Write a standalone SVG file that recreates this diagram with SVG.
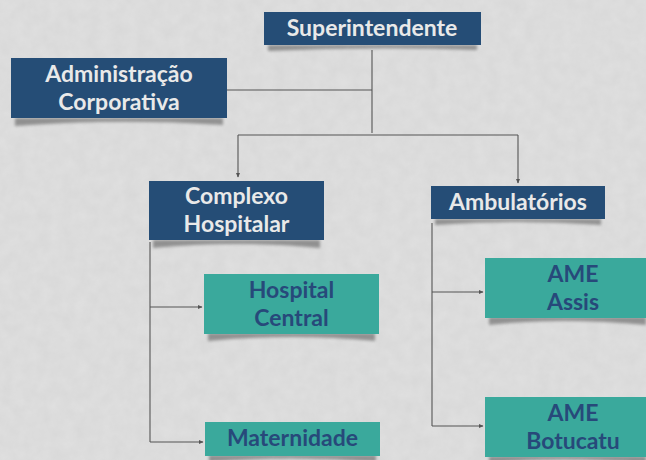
<svg xmlns="http://www.w3.org/2000/svg" width="646" height="460" viewBox="0 0 646 460">
<defs>
<filter id="tex" x="0" y="0" width="100%" height="100%">
<feTurbulence type="fractalNoise" baseFrequency="0.08" numOctaves="3" seed="4"/>
<feColorMatrix type="matrix" values="0 0 0 0 0.55  0 0 0 0 0.55  0 0 0 0 0.55  0 0 0 0.3 0"/>
<feComposite in2="SourceGraphic" operator="in"/>
</filter>
<filter id="blur" x="-10%" y="-50%" width="120%" height="200%"><feGaussianBlur stdDeviation="1.6"/></filter>
<marker id="arr" markerWidth="5" markerHeight="5" refX="4" refY="2.5" orient="auto" markerUnits="userSpaceOnUse">
<path d="M0,0.5 L4.5,2.5 L0,4.5 z" fill="#555"/>
</marker>
<style>
.dk{fill:#254d76}
.tl{fill:#3aa99c}
.sh{fill:#5e5e5e;opacity:.6;filter:url(#blur)}
.tw{font-family:Lato,"Liberation Sans",sans-serif;font-weight:bold;font-size:23px;fill:#e9e9e9;text-anchor:middle}
.tb{font-family:Lato,"Liberation Sans",sans-serif;font-weight:bold;font-size:23px;fill:#27497a;text-anchor:middle}
.ln{stroke:#555;stroke-width:1.1;fill:none}
</style>
</defs>
<rect width="646" height="460" fill="#e0e0e0"/>
<rect width="646" height="460" fill="#e0e0e0" filter="url(#tex)"/>
<g id="connectors">
<path class="ln" d="M372,50 V133"/>
<path class="ln" d="M372,90 H187" marker-end="url(#arr)"/>
<path class="ln" d="M238,135 H518"/>
<path class="ln" d="M238,135 V177" marker-end="url(#arr)"/>
<path class="ln" d="M518,135 V183" marker-end="url(#arr)"/>
<path class="ln" d="M150,242 V442"/>
<path class="ln" d="M150,307 H202" marker-end="url(#arr)"/>
<path class="ln" d="M150,442 H203" marker-end="url(#arr)"/>
<path class="ln" d="M432,223 V426"/>
<path class="ln" d="M432,292 H483" marker-end="url(#arr)"/>
<path class="ln" d="M432,426 H483" marker-end="url(#arr)"/>
</g>
<g id="superintendente">
<path class="sh" d="M268,45 H477 V50 Q372,46 268,51 z"/>
<rect class="dk" x="264" y="12" width="217" height="33"/>
<text class="tw" x="372" y="36">Superintendente</text>
</g>
<g id="administracao">
<path class="sh" d="M15,118 H223 V125 Q120,118 15,126 z"/>
<rect class="dk" x="11" y="58" width="216" height="60"/>
<text class="tw" x="119" y="82">Administração</text>
<text class="tw" x="119" y="110">Corporativa</text>
</g>
<g id="complexo">
<path class="sh" d="M153,240 H320 V248 Q236,240 153,248 z"/>
<rect class="dk" x="149" y="181" width="175" height="59"/>
<text class="tw" x="236.5" y="204">Complexo</text>
<text class="tw" x="236.5" y="232">Hospitalar</text>
</g>
<g id="ambulatorios">
<path class="sh" d="M435,219 H601 V225 Q518,219 435,225 z"/>
<rect class="dk" x="431" y="186" width="174" height="33"/>
<text class="tw" x="518" y="210">Ambulatórios</text>
</g>
<g id="hospital-central">
<path class="sh" d="M208,333 H375 V341 Q292,333 208,341 z"/>
<rect class="tl" x="204" y="274" width="175" height="60"/>
<text class="tb" x="291.5" y="298">Hospital</text>
<text class="tb" x="291.5" y="326">Central</text>
</g>
<g id="maternidade">
<path class="sh" d="M209,455 H376 V462 Q292,455 209,462 z"/>
<rect class="tl" x="205" y="422" width="175" height="34"/>
<text class="tb" x="292.5" y="446">Maternidade</text>
</g>
<g id="ame-assis">
<path class="sh" d="M489,317 H646 V325 Q560,317 489,325 z"/>
<rect class="tl" x="485" y="258" width="165" height="60"/>
<text class="tb" x="573" y="282">AME</text>
<text class="tb" x="573" y="310">Assis</text>
</g>
<g id="ame-botucatu">
<path class="sh" d="M489,456 H646 V463 Q560,456 489,463 z"/>
<rect class="tl" x="485" y="397" width="165" height="60"/>
<text class="tb" x="573" y="421">AME</text>
<text class="tb" x="573" y="449">Botucatu</text>
</g>
</svg>
